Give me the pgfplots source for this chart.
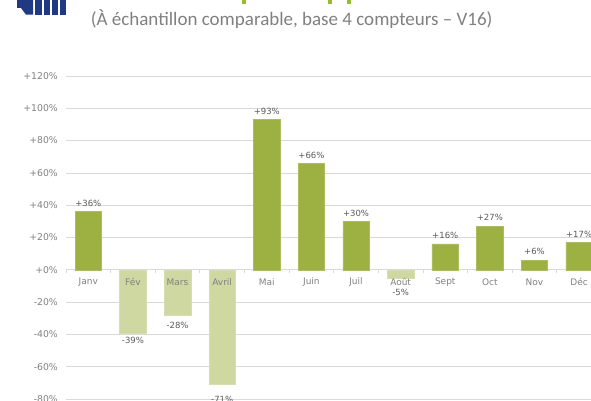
\documentclass[border=0pt]{standalone}
\usepackage{fontspec}
\setmainfont{DejaVu Sans}
\newfontfamily\carlito{Carlito}
\usepackage{pgfplots}
\pgfplotsset{compat=1.18}
\definecolor{pos}{RGB}{157,176,66}
\definecolor{neg}{RGB}{206,216,160}
\definecolor{gridc}{RGB}{217,217,217}
\definecolor{tickc}{RGB}{128,128,128}
\definecolor{labc}{RGB}{90,90,90}
\definecolor{logo}{RGB}{31,58,130}
\definecolor{titleg}{RGB}{150,190,40}
\pgfplotsset{base/.style={
  at={(66pt,1pt)}, anchor=south west,
  scale only axis, width=535.4pt, height=323pt,
  xmin=-0.5, xmax=11.5, ymin=-80, ymax=120,
  axis line style={draw=none},
  major tick length=0pt,
  tick style={draw=none},
  clip=false,
  /pgf/number format/assume math mode=true},
  negbar/.style={fill=neg, draw=neg!85!white, line width=0.5pt, bar shift=0pt,
  nodes near coords={\pgfmathprintnumber{\pgfplotspointmeta}\%},
  every node near coord/.append style={yshift=#1}}}
\begin{document}
\begin{tikzpicture}[x=1pt,y=1pt]
\useasboundingbox (0,0) rectangle (591,400);
\clip (0,0) rectangle (591,400);
% logo fragment
\fill[logo] (17,400) -- (33,400) -- (33,385.3) -- (26,385.3) -- (21,392) -- (17,392) -- cycle;
\fill[logo] (35,400) rectangle (42,385.3);
\fill[logo] (43.5,400) rectangle (50,385.3);
\fill[logo] (52,400) rectangle (58,385.3);
\fill[logo] (60,400) rectangle (66,385.3);
% title fragments
\fill[titleg] (242,400) rectangle (245.5,395.7);
\fill[titleg] (328,400) rectangle (331.5,395.7);
\fill[titleg] (347,400) rectangle (350.5,395.7);
\node[anchor=base, text=tickc, font=\carlito\fontsize{19}{22}\selectfont, inner sep=0pt] at (291.7,374) {(À échantillon comparable, base 4 compteurs – V16)};
\begin{axis}[
  base,
  ytick={-80,-60,...,120},
  xtick=\empty,
  ymajorgrids, grid style={gridc, line width=0.8pt},
  yticklabel={\pgfmathprintnumber[print sign]{\tick}\%},
  yticklabel style={anchor=east, inner sep=0pt, xshift=-8pt, text=tickc, font=\fontsize{9.3}{11}\selectfont},
  ybar, bar width=26.5pt,
  every node near coord/.append style={font=\fontsize{8.5}{10}\selectfont, text=labc},
]
\addplot[fill=pos, draw=pos!85!white, line width=0.5pt, bar shift=0pt,
  nodes near coords={+\pgfmathprintnumber{\pgfplotspointmeta}\%},
  every node near coord/.append style={yshift=1.5pt}]
  coordinates {(0,36) (4,93) (5,66) (6,30) (8,16) (9,27) (10,6) (11,17)};
\addplot[negbar=-1pt] coordinates {(1,-39)};
\addplot[negbar=-4pt] coordinates {(2,-28)};
\addplot[negbar=-8pt] coordinates {(3,-71)};
\addplot[negbar=-8pt] coordinates {(7,-5)};
\pgfplotsinvokeforeach{-0.5,0.5,...,11.5}{
  \draw[gridc, line width=0.8pt] (axis cs:#1,0) -- (axis cs:#1,-1.9);
}
\end{axis}
\begin{axis}[
  base,
  ytick=\empty,
  xtick={0,...,11},
  xticklabels={Janv,Fév,Mars,Avril,Mai,Juin,Juil,Août,Sept,Oct,Nov,Déc},
  xticklabel style={anchor=center, inner sep=0pt, yshift=117pt, text=tickc, font=\fontsize{9}{10}\selectfont},
]
\end{axis}
\end{tikzpicture}
\end{document}
